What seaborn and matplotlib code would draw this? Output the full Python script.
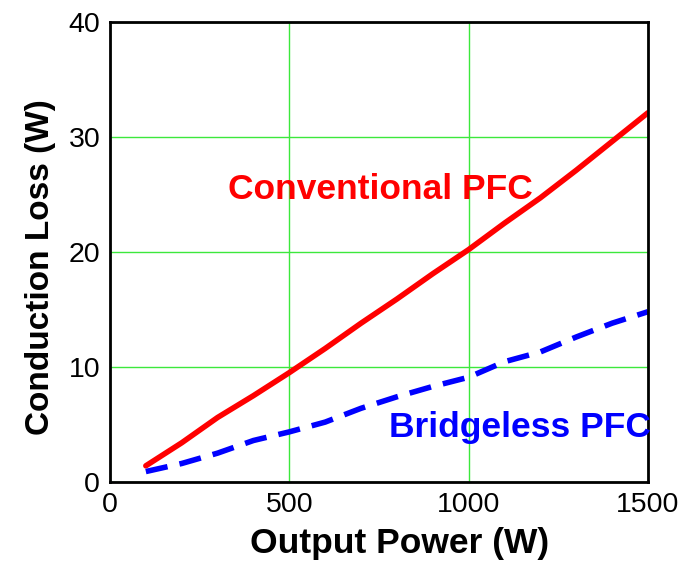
import pandas as pd
import numpy as np
import matplotlib.pyplot as plt
import seaborn as sns

# Conduction loss vs output power
power = [100, 200, 300, 400, 500, 600, 700, 800, 900, 1000, 1100, 1200, 1300, 1400, 1500]
conventional = [1.4, 3.4, 5.6, 7.5, 9.5, 11.6, 13.8, 15.9, 18.1, 20.2, 22.5, 24.7, 27.1, 29.6, 32.1]
bridgeless = [0.9, 1.6, 2.5, 3.6, 4.35, 5.2, 6.4, 7.4, 8.3, 9.1, 10.45, 11.3, 12.6, 13.8, 14.8]

sns.set_style('white')
plt.rcParams['font.family'] = ['Liberation Sans', 'DejaVu Sans']
plt.rcParams['text.color'] = 'black'
plt.rcParams['axes.labelcolor'] = 'black'
plt.rcParams['xtick.color'] = 'black'
plt.rcParams['ytick.color'] = 'black'

fig = plt.figure(figsize=(6.96, 5.61), dpi=100)
ax = fig.add_axes([0.158, 0.141, 0.773, 0.820])

sns.lineplot(x=power, y=conventional, color='#ff0000', linewidth=4, ax=ax)
sns.lineplot(x=power, y=bridgeless, color='#0000ff', linewidth=4, ax=ax)
ax.lines[1].set_dashes([4, 2.2])

ax.set_xlim(0, 1500)
ax.set_ylim(0, 40)
ax.set_xticks([0, 500, 1000, 1500])
ax.set_yticks([0, 10, 20, 30, 40])
ax.grid(True, color='#3ce83c', linewidth=1)
ax.tick_params(length=0, labelsize=20.5, pad=7)
for s in ax.spines.values():
    s.set_color('black')
    s.set_linewidth(2)

#Labels
ax.set_xlabel('Output Power (W)', fontsize=25.5, fontweight='bold')
ax.xaxis.set_label_coords(0.539, -0.098)
ax.set_ylabel('Conduction Loss (W)', fontsize=24, fontweight='bold')
ax.yaxis.set_label_coords(-0.10, 0.467)
ax.text(755, 25.4, 'Conventional PFC', color='#ff0000', fontsize=25.5, fontweight='bold', ha='center', va='center')
ax.text(1508, 4.7, 'Bridgeless PFC', color='#0000ff', fontsize=25.5, fontweight='bold', ha='right', va='center')

fig.savefig('out.png', dpi=100)
